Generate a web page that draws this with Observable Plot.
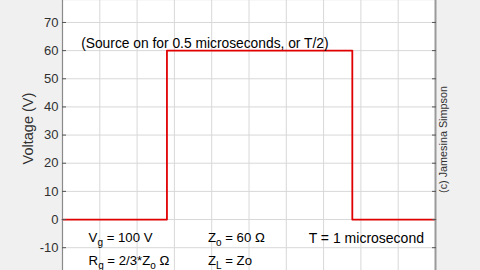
<!DOCTYPE html>
<html><head><meta charset="utf-8">
<script src="https://cdn.jsdelivr.net/npm/d3@7"></script>
<script src="https://cdn.jsdelivr.net/npm/@observablehq/plot@0.6"></script>
<style>html,body{margin:0;padding:0;background:#f0f0f0;overflow:hidden} svg{display:block}</style>
</head><body><div id="chart"></div>
<script>
// Data (time in microseconds, voltage in volts)
const time = [0, 0.28, 0.28, 0.777, 0.777, 1.0];
const voltage = [0, 0, 60, 60, 0, 0];
const yTicks = [-20, -10, 0, 10, 20, 30, 40, 50, 60, 70, 80];
const xGrid = [0, 0.1, 0.2, 0.3, 0.4, 0.5, 0.6, 0.7, 0.8, 0.9, 1.0];
const pulseNote = ["(Source on for 0.5 microseconds, or T/2)"];
const paramsLeft = ["V_g = 100 V", "R_g = 2/3*Z_o \u03A9"];
const paramsMid = ["Z_o = 60 \u03A9", "Z_L = Zo"];
const periodNote = ["T = 1 microsecond"];
const yLabel = ["Voltage (V)"];
const credit = ["(c) Jamesina Simpson"];

const font = "'Liberation Sans', Arial, Helvetica, sans-serif";
const rows = [-6.3, -14.8];

const plot = Plot.plot({
  width: 480,
  height: 270,
  marginLeft: 62,
  marginRight: 45,
  marginTop: 0,
  marginBottom: 0,
  style: {background: "#f0f0f0", fontFamily: font, overflow: "visible"},
  x: {domain: [0, 1], axis: null},
  y: {domain: [-18.1, 77.8]},
  marks: [
    Plot.frame({fill: "white", stroke: null}),
    Plot.gridX(xGrid, {stroke: "#d8d8d8", strokeOpacity: 1, strokeWidth: 1}),
    Plot.gridY(yTicks, {stroke: "#d8d8d8", strokeOpacity: 1, strokeWidth: 1}),
    Plot.line({length: time.length}, {x: time, y: voltage, stroke: "#e00000", strokeWidth: 1.8, curve: "linear"}),
    Plot.ruleX([0], {stroke: "#8a8a8a", strokeWidth: 1.2}),
    Plot.ruleX([1], {stroke: "#9a9a9a", strokeWidth: 2}),
    Plot.axisY(yTicks, {anchor: "left", tickSize: -4, tickPadding: 8, tickFormat: d => String(d), label: null, fontSize: 13, color: "#303030", stroke: "#555"}),
    Plot.axisY(yTicks, {anchor: "right", tickSize: -4, tickFormat: () => "", label: null, stroke: "#555"}),
    Plot.text(pulseNote, {x: () => 0.05, y: () => 62.6, text: d => d, textAnchor: "start", fontSize: 13.8, fill: "black"}),
    Plot.text(paramsLeft, {x: () => 0.07, y: (d, i) => rows[i], text: d => d, textAnchor: "start", fontSize: 13.2, fill: "black"}),
    Plot.text(paramsMid, {x: () => 0.39, y: (d, i) => rows[i], text: d => d, textAnchor: "start", fontSize: 13.2, fill: "black"}),
    Plot.text(periodNote, {x: () => 0.66, y: () => -6.8, text: d => d, textAnchor: "start", fontSize: 14, fill: "black"}),
    Plot.text(yLabel, {frameAnchor: "left", dx: -34, dy: -7, rotate: -90, textAnchor: "middle", text: d => d, fontSize: 14.5, fill: "#303030"}),
    Plot.text(credit, {frameAnchor: "right", dx: 8, dy: 4, rotate: -90, textAnchor: "middle", text: d => d, fontSize: 10.8, fill: "#303030"})
  ]
});

// Render subscripts written as "_x"
d3.select(plot).selectAll("text").each(function() {
  const el = this;
  if (el.querySelector("tspan")) return;
  const s = el.textContent;
  if (!s.includes("_")) return;
  el.textContent = "";
  const parts = [];
  let buf = "";
  for (let i = 0; i < s.length; i++) {
    if (s[i] === "_" && i + 1 < s.length) {
      if (buf) parts.push({t: buf, sub: false});
      buf = "";
      parts.push({t: s[i + 1], sub: true});
      i++;
    } else buf += s[i];
  }
  if (buf) parts.push({t: buf, sub: false});
  let shifted = false;
  for (const p of parts) {
    const ts = document.createElementNS("http://www.w3.org/2000/svg", "tspan");
    ts.textContent = p.t;
    if (p.sub) {
      ts.setAttribute("font-size", "10");
      ts.setAttribute("dy", "4");
      shifted = true;
    } else if (shifted) {
      ts.setAttribute("dy", "-4");
      shifted = false;
    }
    el.appendChild(ts);
  }
});

document.getElementById("chart").appendChild(plot);
</script>
</body></html>
